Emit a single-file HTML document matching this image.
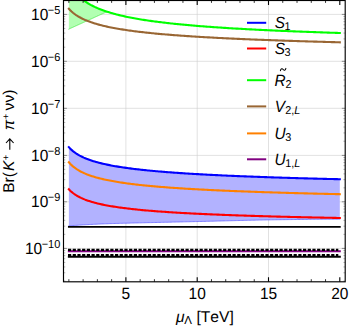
<!DOCTYPE html>
<html><head><meta charset="utf-8"><title>plot</title>
<style>html,body{margin:0;padding:0;background:#fff;}body{width:349px;height:327px;overflow:hidden;font-family:"Liberation Sans",sans-serif;}</style></head>
<body>
<svg width="349" height="327" viewBox="0 0 349 327" style="display:block">
<rect x="0" y="0" width="349" height="327" fill="#fff"/>
<line x1="125.90" y1="0.5" x2="125.90" y2="281.8" stroke="#cccccc" stroke-width="0.6"/>
<line x1="197.20" y1="0.5" x2="197.20" y2="281.8" stroke="#cccccc" stroke-width="0.6"/>
<line x1="268.50" y1="0.5" x2="268.50" y2="281.8" stroke="#cccccc" stroke-width="0.6"/>
<line x1="63.5" y1="248.40" x2="345.2" y2="248.40" stroke="#cccccc" stroke-width="0.6"/>
<line x1="63.5" y1="201.80" x2="345.2" y2="201.80" stroke="#cccccc" stroke-width="0.6"/>
<line x1="63.5" y1="155.40" x2="345.2" y2="155.40" stroke="#cccccc" stroke-width="0.6"/>
<line x1="63.5" y1="108.30" x2="345.2" y2="108.30" stroke="#cccccc" stroke-width="0.6"/>
<line x1="63.5" y1="61.30" x2="345.2" y2="61.30" stroke="#cccccc" stroke-width="0.6"/>
<line x1="63.5" y1="14.40" x2="345.2" y2="14.40" stroke="#cccccc" stroke-width="0.6"/>
<clipPath id="c"><rect x="63.5" y="0.5" width="281.7" height="281.3"/></clipPath>
<g clip-path="url(#c)" fill="none" stroke-linejoin="round" stroke-linecap="square">
<path d="M68.86,147.16 L70.22,148.62 L71.58,149.91 L72.94,151.08 L74.31,152.15 L75.67,153.12 L77.03,154.01 L78.39,154.83 L79.75,155.60 L81.11,156.31 L82.48,156.98 L83.84,157.61 L85.20,158.20 L86.56,158.76 L87.92,159.28 L89.28,159.78 L90.64,160.26 L92.01,160.71 L93.37,161.14 L94.73,161.56 L96.09,161.95 L97.45,162.33 L98.81,162.69 L100.17,163.04 L101.54,163.38 L102.90,163.70 L104.26,164.01 L105.62,164.31 L106.98,164.60 L108.34,164.88 L109.71,165.15 L111.07,165.42 L112.43,165.67 L113.79,165.92 L115.15,166.16 L116.51,166.39 L117.87,166.62 L119.24,166.84 L120.60,167.05 L121.96,167.26 L123.32,167.47 L124.68,167.66 L126.04,167.86 L127.40,168.05 L128.77,168.23 L130.13,168.41 L131.49,168.59 L132.85,168.76 L134.21,168.92 L135.57,169.09 L136.94,169.25 L138.30,169.41 L139.66,169.56 L141.02,169.71 L142.38,169.86 L143.74,170.00 L145.10,170.15 L146.47,170.28 L147.83,170.42 L149.19,170.56 L150.55,170.69 L151.91,170.82 L153.27,170.94 L154.63,171.07 L156.00,171.19 L157.36,171.31 L158.72,171.43 L160.08,171.54 L161.44,171.66 L162.80,171.77 L164.17,171.88 L165.53,171.99 L166.89,172.10 L168.25,172.20 L169.61,172.31 L170.97,172.41 L172.33,172.51 L173.70,172.61 L175.06,172.71 L176.42,172.80 L177.78,172.90 L179.14,172.99 L180.50,173.08 L181.87,173.17 L183.23,173.26 L184.59,173.35 L185.95,173.44 L187.31,173.52 L188.67,173.61 L190.03,173.69 L191.40,173.78 L192.76,173.86 L194.12,173.94 L195.48,174.02 L196.84,174.10 L198.20,174.17 L199.56,174.25 L200.93,174.33 L202.29,174.40 L203.65,174.48 L205.01,174.55 L206.37,174.62 L207.73,174.69 L209.10,174.76 L210.46,174.83 L211.82,174.90 L213.18,174.97 L214.54,175.04 L215.90,175.11 L217.26,175.17 L218.63,175.24 L219.99,175.30 L221.35,175.37 L222.71,175.43 L224.07,175.49 L225.43,175.55 L226.79,175.61 L228.16,175.68 L229.52,175.74 L230.88,175.80 L232.24,175.85 L233.60,175.91 L234.96,175.97 L236.33,176.03 L237.69,176.08 L239.05,176.14 L240.41,176.20 L241.77,176.25 L243.13,176.31 L244.49,176.36 L245.86,176.41 L247.22,176.47 L248.58,176.52 L249.94,176.57 L251.30,176.62 L252.66,176.67 L254.03,176.72 L255.39,176.77 L256.75,176.82 L258.11,176.87 L259.47,176.92 L260.83,176.97 L262.19,177.02 L263.56,177.07 L264.92,177.11 L266.28,177.16 L267.64,177.21 L269.00,177.25 L270.36,177.30 L271.72,177.34 L273.09,177.39 L274.45,177.43 L275.81,177.48 L277.17,177.52 L278.53,177.57 L279.89,177.61 L281.26,177.65 L282.62,177.69 L283.98,177.74 L285.34,177.78 L286.70,177.82 L288.06,177.86 L289.42,177.90 L290.79,177.94 L292.15,177.98 L293.51,178.02 L294.87,178.06 L296.23,178.10 L297.59,178.14 L298.95,178.18 L300.32,178.22 L301.68,178.26 L303.04,178.30 L304.40,178.33 L305.76,178.37 L307.12,178.41 L308.49,178.45 L309.85,178.48 L311.21,178.52 L312.57,178.55 L313.93,178.59 L315.29,178.63 L316.65,178.66 L318.02,178.70 L319.38,178.73 L320.74,178.77 L322.10,178.80 L323.46,178.84 L324.82,178.87 L326.18,178.90 L327.55,178.94 L328.91,178.97 L330.27,179.00 L331.63,179.04 L332.99,179.07 L334.35,179.10 L335.72,179.14 L337.08,179.17 L338.44,179.20 L339.80,179.23 L339.80,219.12 L338.44,219.13 L337.08,219.13 L335.72,219.14 L334.35,219.15 L332.99,219.16 L331.63,219.17 L330.27,219.18 L328.91,219.18 L327.55,219.19 L326.18,219.20 L324.82,219.22 L323.46,219.23 L322.10,219.24 L320.74,219.25 L319.38,219.26 L318.02,219.27 L316.65,219.29 L315.29,219.30 L313.93,219.31 L312.57,219.33 L311.21,219.34 L309.85,219.35 L308.49,219.37 L307.12,219.38 L305.76,219.40 L304.40,219.41 L303.04,219.43 L301.68,219.44 L300.32,219.46 L298.95,219.48 L297.59,219.49 L296.23,219.51 L294.87,219.52 L293.51,219.54 L292.15,219.56 L290.79,219.58 L289.42,219.59 L288.06,219.61 L286.70,219.63 L285.34,219.65 L283.98,219.66 L282.62,219.68 L281.26,219.70 L279.89,219.72 L278.53,219.74 L277.17,219.76 L275.81,219.78 L274.45,219.79 L273.09,219.81 L271.72,219.83 L270.36,219.85 L269.00,219.88 L267.64,219.90 L266.28,219.92 L264.92,219.95 L263.56,219.97 L262.19,220.00 L260.83,220.02 L259.47,220.05 L258.11,220.08 L256.75,220.11 L255.39,220.13 L254.03,220.16 L252.66,220.19 L251.30,220.22 L249.94,220.26 L248.58,220.29 L247.22,220.32 L245.86,220.35 L244.49,220.38 L243.13,220.42 L241.77,220.45 L240.41,220.49 L239.05,220.52 L237.69,220.55 L236.33,220.59 L234.96,220.62 L233.60,220.66 L232.24,220.69 L230.88,220.73 L229.52,220.76 L228.16,220.80 L226.79,220.83 L225.43,220.87 L224.07,220.90 L222.71,220.94 L221.35,220.97 L219.99,221.01 L218.63,221.04 L217.26,221.08 L215.90,221.11 L214.54,221.15 L213.18,221.18 L211.82,221.21 L210.46,221.25 L209.10,221.28 L207.73,221.31 L206.37,221.35 L205.01,221.38 L203.65,221.41 L202.29,221.44 L200.93,221.47 L199.56,221.50 L198.20,221.53 L196.84,221.56 L195.48,221.59 L194.12,221.63 L192.76,221.66 L191.40,221.69 L190.03,221.72 L188.67,221.75 L187.31,221.78 L185.95,221.81 L184.59,221.84 L183.23,221.87 L181.87,221.91 L180.50,221.94 L179.14,221.97 L177.78,222.00 L176.42,222.03 L175.06,222.06 L173.70,222.09 L172.33,222.12 L170.97,222.15 L169.61,222.19 L168.25,222.22 L166.89,222.25 L165.53,222.28 L164.17,222.31 L162.80,222.34 L161.44,222.37 L160.08,222.40 L158.72,222.43 L157.36,222.46 L156.00,222.49 L154.63,222.52 L153.27,222.55 L151.91,222.58 L150.55,222.61 L149.19,222.64 L147.83,222.67 L146.47,222.70 L145.10,222.74 L143.74,222.77 L142.38,222.80 L141.02,222.83 L139.66,222.86 L138.30,222.90 L136.94,222.93 L135.57,222.96 L134.21,222.99 L132.85,223.03 L131.49,223.06 L130.13,223.09 L128.77,223.13 L127.40,223.16 L126.04,223.19 L124.68,223.23 L123.32,223.26 L121.96,223.30 L120.60,223.33 L119.24,223.37 L117.87,223.40 L116.51,223.44 L115.15,223.48 L113.79,223.52 L112.43,223.56 L111.07,223.60 L109.71,223.64 L108.34,223.69 L106.98,223.74 L105.62,223.79 L104.26,223.84 L102.90,223.89 L101.54,223.95 L100.17,224.01 L98.81,224.07 L97.45,224.13 L96.09,224.19 L94.73,224.26 L93.37,224.33 L92.01,224.39 L90.64,224.46 L89.28,224.53 L87.92,224.60 L86.56,224.68 L85.20,224.76 L83.84,224.84 L82.48,224.93 L81.11,225.02 L79.75,225.11 L78.39,225.20 L77.03,225.29 L75.67,225.39 L74.31,225.47 L72.94,225.56 L71.58,225.64 L70.22,225.72 L68.86,225.80Z" fill="#b2b2ff" stroke="none"/>
<path d="M68.86,225.80 L70.22,225.72 L71.58,225.64 L72.94,225.56 L74.31,225.47 L75.67,225.39 L77.03,225.29 L78.39,225.20 L79.75,225.11 L81.11,225.02 L82.48,224.93 L83.84,224.84 L85.20,224.76 L86.56,224.68 L87.92,224.60 L89.28,224.53 L90.64,224.46 L92.01,224.39 L93.37,224.33 L94.73,224.26 L96.09,224.19 L97.45,224.13 L98.81,224.07 L100.17,224.01 L101.54,223.95 L102.90,223.89 L104.26,223.84 L105.62,223.79 L106.98,223.74 L108.34,223.69 L109.71,223.64 L111.07,223.60 L112.43,223.56 L113.79,223.52 L115.15,223.48 L116.51,223.44 L117.87,223.40 L119.24,223.37 L120.60,223.33 L121.96,223.30 L123.32,223.26 L124.68,223.23 L126.04,223.19 L127.40,223.16 L128.77,223.13 L130.13,223.09 L131.49,223.06 L132.85,223.03 L134.21,222.99 L135.57,222.96 L136.94,222.93 L138.30,222.90 L139.66,222.86 L141.02,222.83 L142.38,222.80 L143.74,222.77 L145.10,222.74 L146.47,222.70 L147.83,222.67 L149.19,222.64 L150.55,222.61 L151.91,222.58 L153.27,222.55 L154.63,222.52 L156.00,222.49 L157.36,222.46 L158.72,222.43 L160.08,222.40 L161.44,222.37 L162.80,222.34 L164.17,222.31 L165.53,222.28 L166.89,222.25 L168.25,222.22 L169.61,222.19 L170.97,222.15 L172.33,222.12 L173.70,222.09 L175.06,222.06 L176.42,222.03 L177.78,222.00 L179.14,221.97 L180.50,221.94 L181.87,221.91 L183.23,221.87 L184.59,221.84 L185.95,221.81 L187.31,221.78 L188.67,221.75 L190.03,221.72 L191.40,221.69 L192.76,221.66 L194.12,221.63 L195.48,221.59 L196.84,221.56 L198.20,221.53 L199.56,221.50 L200.93,221.47 L202.29,221.44 L203.65,221.41 L205.01,221.38 L206.37,221.35 L207.73,221.31 L209.10,221.28 L210.46,221.25 L211.82,221.21 L213.18,221.18 L214.54,221.15 L215.90,221.11 L217.26,221.08 L218.63,221.04 L219.99,221.01 L221.35,220.97 L222.71,220.94 L224.07,220.90 L225.43,220.87 L226.79,220.83 L228.16,220.80 L229.52,220.76 L230.88,220.73 L232.24,220.69 L233.60,220.66 L234.96,220.62 L236.33,220.59 L237.69,220.55 L239.05,220.52 L240.41,220.49 L241.77,220.45 L243.13,220.42 L244.49,220.38 L245.86,220.35 L247.22,220.32 L248.58,220.29 L249.94,220.26 L251.30,220.22 L252.66,220.19 L254.03,220.16 L255.39,220.13 L256.75,220.11 L258.11,220.08 L259.47,220.05 L260.83,220.02 L262.19,220.00 L263.56,219.97 L264.92,219.95 L266.28,219.92 L267.64,219.90 L269.00,219.88 L270.36,219.85 L271.72,219.83 L273.09,219.81 L274.45,219.79 L275.81,219.78 L277.17,219.76 L278.53,219.74 L279.89,219.72 L281.26,219.70 L282.62,219.68 L283.98,219.66 L285.34,219.65 L286.70,219.63 L288.06,219.61 L289.42,219.59 L290.79,219.58 L292.15,219.56 L293.51,219.54 L294.87,219.52 L296.23,219.51 L297.59,219.49 L298.95,219.48 L300.32,219.46 L301.68,219.44 L303.04,219.43 L304.40,219.41 L305.76,219.40 L307.12,219.38 L308.49,219.37 L309.85,219.35 L311.21,219.34 L312.57,219.33 L313.93,219.31 L315.29,219.30 L316.65,219.29 L318.02,219.27 L319.38,219.26 L320.74,219.25 L322.10,219.24 L323.46,219.23 L324.82,219.22 L326.18,219.20 L327.55,219.19 L328.91,219.18 L330.27,219.18 L331.63,219.17 L332.99,219.16 L334.35,219.15 L335.72,219.14 L337.08,219.13 L338.44,219.13 L339.80,219.12" stroke="#5a5aff" stroke-width="0.7"/>
<path d="M68.86,-17.10 L69.05,-16.72 L69.24,-16.36 L69.43,-16.00 L69.63,-15.64 L69.82,-15.30 L70.01,-14.95 L70.20,-14.62 L70.39,-14.29 L70.58,-13.96 L70.78,-13.65 L70.97,-13.33 L71.16,-13.02 L71.35,-12.72 L71.54,-12.42 L71.73,-12.12 L71.93,-11.83 L72.12,-11.55 L72.31,-11.27 L72.50,-10.99 L72.69,-10.72 L72.88,-10.45 L73.08,-10.18 L73.27,-9.92 L73.46,-9.66 L73.65,-9.41 L73.84,-9.16 L74.03,-8.91 L74.23,-8.66 L74.42,-8.42 L74.61,-8.19 L74.80,-7.95 L74.99,-7.72 L75.18,-7.49 L75.38,-7.27 L75.57,-7.04 L75.76,-6.82 L75.95,-6.61 L76.14,-6.39 L76.33,-6.18 L76.53,-5.97 L76.72,-5.76 L76.91,-5.56 L77.10,-5.36 L77.29,-5.16 L77.48,-4.96 L77.68,-4.77 L77.87,-4.57 L78.06,-4.38 L78.25,-4.19 L78.44,-4.01 L78.63,-3.82 L78.83,-3.64 L79.02,-3.46 L79.21,-3.28 L79.40,-3.11 L79.59,-2.93 L79.78,-2.76 L79.98,-2.59 L80.17,-2.42 L80.36,-2.25 L80.55,-2.09 L80.74,-1.92 L80.93,-1.76 L81.13,-1.60 L81.32,-1.44 L81.51,-1.28 L81.70,-1.13 L81.89,-0.97 L82.08,-0.82 L82.28,-0.67 L82.47,-0.52 L82.66,-0.37 L82.85,-0.22 L83.04,-0.07 L83.23,0.07 L83.43,0.21 L83.62,0.35 L83.81,0.50 L84.00,0.63 L84.19,0.77 L84.38,0.91 L84.58,1.05 L84.77,1.18 L84.96,1.31 L85.15,1.45 L85.34,1.58 L85.53,1.71 L85.73,1.84 L85.92,1.96 L86.11,2.09 L86.30,2.22 L86.49,2.34 L86.68,2.46 L86.88,2.59 L87.07,2.71 L87.26,2.83 L87.45,2.95 L87.64,3.07 L87.83,3.18 L88.03,3.30 L88.22,3.42 L88.41,3.53 L88.60,3.64 L88.79,3.76 L88.98,3.87 L89.18,3.98 L89.37,4.09 L89.56,4.20 L89.75,4.31 L89.94,4.42 L90.13,4.53 L90.33,4.63 L90.52,4.74 L90.71,4.84 L90.90,4.95 L91.09,5.05 L91.28,5.15 L91.48,5.25 L91.67,5.36 L91.86,5.46 L92.05,5.56 L92.24,5.65 L92.43,5.75 L92.63,5.85 L92.82,5.95 L93.01,6.04 L93.20,6.14 L93.39,6.23 L93.58,6.33 L93.78,6.42 L93.97,6.51 L94.16,6.61 L94.35,6.70 L94.54,6.79 L94.73,6.88 L94.93,6.97 L95.12,7.06 L95.31,7.15 L95.50,7.24 L95.69,7.32 L95.88,7.41 L96.08,7.50 L96.27,7.58 L96.46,7.67 L96.65,7.75 L96.84,7.84 L97.03,7.92 L97.23,8.01 L97.42,8.09 L97.61,8.17 L97.80,8.25 L97.99,8.33 L98.18,8.42 L98.38,8.50 L98.57,8.58 L98.76,8.65 L98.95,8.73 L99.14,8.81 L99.33,8.89 L99.53,8.97 L99.72,9.04 L99.91,9.12 L100.10,9.20 L100.29,9.27 L100.48,9.35 L100.68,9.42 L100.87,9.50 L101.06,9.57 L101.25,9.64 L101.44,9.72 L101.63,9.79 L101.83,9.86 L102.02,9.93 L102.21,10.01 L102.40,10.08 L102.59,10.15 L102.78,10.22 L102.98,10.29 L103.17,10.36 L103.36,10.43 L103.55,10.50 L103.74,10.56 L103.93,10.63 L104.13,10.70 L104.32,10.77 L104.51,10.83 L104.70,10.90 L104.89,10.97 L105.08,11.03 L105.28,11.10 L105.47,11.16 L105.66,11.23 L105.85,11.29 L106.04,11.36 L106.23,11.42 L106.43,11.49 L106.62,11.55 L106.81,11.61 L107.00,11.67 L107.00,11.67 L106.81,11.76 L106.62,11.85 L106.43,11.94 L106.23,12.02 L106.04,12.11 L105.85,12.20 L105.66,12.29 L105.47,12.37 L105.28,12.46 L105.08,12.55 L104.89,12.64 L104.70,12.72 L104.51,12.81 L104.32,12.90 L104.13,12.99 L103.93,13.08 L103.74,13.16 L103.55,13.25 L103.36,13.34 L103.17,13.43 L102.98,13.51 L102.78,13.60 L102.59,13.69 L102.40,13.78 L102.21,13.86 L102.02,13.95 L101.83,14.04 L101.63,14.13 L101.44,14.21 L101.25,14.30 L101.06,14.39 L100.87,14.48 L100.68,14.56 L100.48,14.65 L100.29,14.74 L100.10,14.83 L99.91,14.91 L99.72,15.00 L99.53,15.09 L99.33,15.18 L99.14,15.26 L98.95,15.35 L98.76,15.44 L98.57,15.53 L98.38,15.61 L98.18,15.70 L97.99,15.79 L97.80,15.88 L97.61,15.96 L97.42,16.05 L97.23,16.14 L97.03,16.23 L96.84,16.32 L96.65,16.40 L96.46,16.49 L96.27,16.58 L96.08,16.67 L95.88,16.75 L95.69,16.84 L95.50,16.93 L95.31,17.02 L95.12,17.10 L94.93,17.19 L94.73,17.28 L94.54,17.37 L94.35,17.45 L94.16,17.54 L93.97,17.63 L93.78,17.72 L93.58,17.80 L93.39,17.89 L93.20,17.98 L93.01,18.07 L92.82,18.15 L92.63,18.24 L92.43,18.33 L92.24,18.42 L92.05,18.50 L91.86,18.59 L91.67,18.68 L91.48,18.77 L91.28,18.85 L91.09,18.94 L90.90,19.03 L90.71,19.12 L90.52,19.20 L90.33,19.29 L90.13,19.38 L89.94,19.47 L89.75,19.56 L89.56,19.64 L89.37,19.73 L89.18,19.82 L88.98,19.91 L88.79,19.99 L88.60,20.08 L88.41,20.17 L88.22,20.26 L88.03,20.34 L87.83,20.43 L87.64,20.52 L87.45,20.61 L87.26,20.69 L87.07,20.78 L86.88,20.87 L86.68,20.96 L86.49,21.04 L86.30,21.13 L86.11,21.22 L85.92,21.31 L85.73,21.39 L85.53,21.48 L85.34,21.57 L85.15,21.66 L84.96,21.74 L84.77,21.83 L84.58,21.92 L84.38,22.01 L84.19,22.09 L84.00,22.18 L83.81,22.27 L83.62,22.36 L83.43,22.44 L83.23,22.53 L83.04,22.62 L82.85,22.71 L82.66,22.80 L82.47,22.88 L82.28,22.97 L82.08,23.06 L81.89,23.15 L81.70,23.23 L81.51,23.32 L81.32,23.41 L81.13,23.50 L80.93,23.58 L80.74,23.67 L80.55,23.76 L80.36,23.85 L80.17,23.93 L79.98,24.02 L79.78,24.11 L79.59,24.20 L79.40,24.28 L79.21,24.37 L79.02,24.46 L78.83,24.55 L78.63,24.63 L78.44,24.72 L78.25,24.81 L78.06,24.90 L77.87,24.98 L77.68,25.07 L77.48,25.16 L77.29,25.25 L77.10,25.33 L76.91,25.42 L76.72,25.51 L76.53,25.60 L76.33,25.68 L76.14,25.77 L75.95,25.86 L75.76,25.95 L75.57,26.04 L75.38,26.12 L75.18,26.21 L74.99,26.30 L74.80,26.39 L74.61,26.47 L74.42,26.56 L74.23,26.65 L74.03,26.74 L73.84,26.82 L73.65,26.91 L73.46,27.00 L73.27,27.09 L73.08,27.17 L72.88,27.26 L72.69,27.35 L72.50,27.44 L72.31,27.52 L72.12,27.61 L71.93,27.70 L71.73,27.79 L71.54,27.87 L71.35,27.96 L71.16,28.05 L70.97,28.14 L70.78,28.22 L70.58,28.31 L70.39,28.40 L70.20,28.49 L70.01,28.57 L69.82,28.66 L69.63,28.75 L69.43,28.84 L69.24,28.92 L69.05,29.01 L68.86,29.10Z" fill="#b2ffb2" stroke="none"/>
<path d="M68.86,29.10 L69.05,29.01 L69.24,28.92 L69.43,28.84 L69.63,28.75 L69.82,28.66 L70.01,28.57 L70.20,28.49 L70.39,28.40 L70.58,28.31 L70.78,28.22 L70.97,28.14 L71.16,28.05 L71.35,27.96 L71.54,27.87 L71.73,27.79 L71.93,27.70 L72.12,27.61 L72.31,27.52 L72.50,27.44 L72.69,27.35 L72.88,27.26 L73.08,27.17 L73.27,27.09 L73.46,27.00 L73.65,26.91 L73.84,26.82 L74.03,26.74 L74.23,26.65 L74.42,26.56 L74.61,26.47 L74.80,26.39 L74.99,26.30 L75.18,26.21 L75.38,26.12 L75.57,26.04 L75.76,25.95 L75.95,25.86 L76.14,25.77 L76.33,25.68 L76.53,25.60 L76.72,25.51 L76.91,25.42 L77.10,25.33 L77.29,25.25 L77.48,25.16 L77.68,25.07 L77.87,24.98 L78.06,24.90 L78.25,24.81 L78.44,24.72 L78.63,24.63 L78.83,24.55 L79.02,24.46 L79.21,24.37 L79.40,24.28 L79.59,24.20 L79.78,24.11 L79.98,24.02 L80.17,23.93 L80.36,23.85 L80.55,23.76 L80.74,23.67 L80.93,23.58 L81.13,23.50 L81.32,23.41 L81.51,23.32 L81.70,23.23 L81.89,23.15 L82.08,23.06 L82.28,22.97 L82.47,22.88 L82.66,22.80 L82.85,22.71 L83.04,22.62 L83.23,22.53 L83.43,22.44 L83.62,22.36 L83.81,22.27 L84.00,22.18 L84.19,22.09 L84.38,22.01 L84.58,21.92 L84.77,21.83 L84.96,21.74 L85.15,21.66 L85.34,21.57 L85.53,21.48 L85.73,21.39 L85.92,21.31 L86.11,21.22 L86.30,21.13 L86.49,21.04 L86.68,20.96 L86.88,20.87 L87.07,20.78 L87.26,20.69 L87.45,20.61 L87.64,20.52 L87.83,20.43 L88.03,20.34 L88.22,20.26 L88.41,20.17 L88.60,20.08 L88.79,19.99 L88.98,19.91 L89.18,19.82 L89.37,19.73 L89.56,19.64 L89.75,19.56 L89.94,19.47 L90.13,19.38 L90.33,19.29 L90.52,19.20 L90.71,19.12 L90.90,19.03 L91.09,18.94 L91.28,18.85 L91.48,18.77 L91.67,18.68 L91.86,18.59 L92.05,18.50 L92.24,18.42 L92.43,18.33 L92.63,18.24 L92.82,18.15 L93.01,18.07 L93.20,17.98 L93.39,17.89 L93.58,17.80 L93.78,17.72 L93.97,17.63 L94.16,17.54 L94.35,17.45 L94.54,17.37 L94.73,17.28 L94.93,17.19 L95.12,17.10 L95.31,17.02 L95.50,16.93 L95.69,16.84 L95.88,16.75 L96.08,16.67 L96.27,16.58 L96.46,16.49 L96.65,16.40 L96.84,16.32 L97.03,16.23 L97.23,16.14 L97.42,16.05 L97.61,15.96 L97.80,15.88 L97.99,15.79 L98.18,15.70 L98.38,15.61 L98.57,15.53 L98.76,15.44 L98.95,15.35 L99.14,15.26 L99.33,15.18 L99.53,15.09 L99.72,15.00 L99.91,14.91 L100.10,14.83 L100.29,14.74 L100.48,14.65 L100.68,14.56 L100.87,14.48 L101.06,14.39 L101.25,14.30 L101.44,14.21 L101.63,14.13 L101.83,14.04 L102.02,13.95 L102.21,13.86 L102.40,13.78 L102.59,13.69 L102.78,13.60 L102.98,13.51 L103.17,13.43 L103.36,13.34 L103.55,13.25 L103.74,13.16 L103.93,13.08 L104.13,12.99 L104.32,12.90 L104.51,12.81 L104.70,12.72 L104.89,12.64 L105.08,12.55 L105.28,12.46 L105.47,12.37 L105.66,12.29 L105.85,12.20 L106.04,12.11 L106.23,12.02 L106.43,11.94 L106.62,11.85 L106.81,11.76 L107.00,11.67" stroke="#3ce83c" stroke-width="0.7"/>
<line x1="68.86" y1="226.85" x2="339.80" y2="226.85" stroke="#000" stroke-width="1.8"/>
<line x1="68.86" y1="251.2" x2="339.80" y2="251.2" stroke="#800080" stroke-width="2"/>
<line x1="68.0" y1="249.8" x2="338.30" y2="249.8" stroke="#000" stroke-width="2.2" stroke-dasharray="3.2 1.5" stroke-linecap="butt"/>
<line x1="68.0" y1="255.0" x2="338.30" y2="255.0" stroke="#000" stroke-width="2" stroke-dasharray="3.2 1.5" stroke-linecap="butt"/>
<line x1="68.86" y1="256.75" x2="339.80" y2="256.75" stroke="#000" stroke-width="2"/>
<path d="M68.86,147.16 L70.22,148.62 L71.58,149.91 L72.94,151.08 L74.31,152.15 L75.67,153.12 L77.03,154.01 L78.39,154.83 L79.75,155.60 L81.11,156.31 L82.48,156.98 L83.84,157.61 L85.20,158.20 L86.56,158.76 L87.92,159.28 L89.28,159.78 L90.64,160.26 L92.01,160.71 L93.37,161.14 L94.73,161.56 L96.09,161.95 L97.45,162.33 L98.81,162.69 L100.17,163.04 L101.54,163.38 L102.90,163.70 L104.26,164.01 L105.62,164.31 L106.98,164.60 L108.34,164.88 L109.71,165.15 L111.07,165.42 L112.43,165.67 L113.79,165.92 L115.15,166.16 L116.51,166.39 L117.87,166.62 L119.24,166.84 L120.60,167.05 L121.96,167.26 L123.32,167.47 L124.68,167.66 L126.04,167.86 L127.40,168.05 L128.77,168.23 L130.13,168.41 L131.49,168.59 L132.85,168.76 L134.21,168.92 L135.57,169.09 L136.94,169.25 L138.30,169.41 L139.66,169.56 L141.02,169.71 L142.38,169.86 L143.74,170.00 L145.10,170.15 L146.47,170.28 L147.83,170.42 L149.19,170.56 L150.55,170.69 L151.91,170.82 L153.27,170.94 L154.63,171.07 L156.00,171.19 L157.36,171.31 L158.72,171.43 L160.08,171.54 L161.44,171.66 L162.80,171.77 L164.17,171.88 L165.53,171.99 L166.89,172.10 L168.25,172.20 L169.61,172.31 L170.97,172.41 L172.33,172.51 L173.70,172.61 L175.06,172.71 L176.42,172.80 L177.78,172.90 L179.14,172.99 L180.50,173.08 L181.87,173.17 L183.23,173.26 L184.59,173.35 L185.95,173.44 L187.31,173.52 L188.67,173.61 L190.03,173.69 L191.40,173.78 L192.76,173.86 L194.12,173.94 L195.48,174.02 L196.84,174.10 L198.20,174.17 L199.56,174.25 L200.93,174.33 L202.29,174.40 L203.65,174.48 L205.01,174.55 L206.37,174.62 L207.73,174.69 L209.10,174.76 L210.46,174.83 L211.82,174.90 L213.18,174.97 L214.54,175.04 L215.90,175.11 L217.26,175.17 L218.63,175.24 L219.99,175.30 L221.35,175.37 L222.71,175.43 L224.07,175.49 L225.43,175.55 L226.79,175.61 L228.16,175.68 L229.52,175.74 L230.88,175.80 L232.24,175.85 L233.60,175.91 L234.96,175.97 L236.33,176.03 L237.69,176.08 L239.05,176.14 L240.41,176.20 L241.77,176.25 L243.13,176.31 L244.49,176.36 L245.86,176.41 L247.22,176.47 L248.58,176.52 L249.94,176.57 L251.30,176.62 L252.66,176.67 L254.03,176.72 L255.39,176.77 L256.75,176.82 L258.11,176.87 L259.47,176.92 L260.83,176.97 L262.19,177.02 L263.56,177.07 L264.92,177.11 L266.28,177.16 L267.64,177.21 L269.00,177.25 L270.36,177.30 L271.72,177.34 L273.09,177.39 L274.45,177.43 L275.81,177.48 L277.17,177.52 L278.53,177.57 L279.89,177.61 L281.26,177.65 L282.62,177.69 L283.98,177.74 L285.34,177.78 L286.70,177.82 L288.06,177.86 L289.42,177.90 L290.79,177.94 L292.15,177.98 L293.51,178.02 L294.87,178.06 L296.23,178.10 L297.59,178.14 L298.95,178.18 L300.32,178.22 L301.68,178.26 L303.04,178.30 L304.40,178.33 L305.76,178.37 L307.12,178.41 L308.49,178.45 L309.85,178.48 L311.21,178.52 L312.57,178.55 L313.93,178.59 L315.29,178.63 L316.65,178.66 L318.02,178.70 L319.38,178.73 L320.74,178.77 L322.10,178.80 L323.46,178.84 L324.82,178.87 L326.18,178.90 L327.55,178.94 L328.91,178.97 L330.27,179.00 L331.63,179.04 L332.99,179.07 L334.35,179.10 L335.72,179.14 L337.08,179.17 L338.44,179.20 L339.80,179.23" stroke="#0000ff" stroke-width="2.1"/>
<path d="M68.86,189.30 L70.22,190.68 L71.58,191.91 L72.94,193.02 L74.31,194.02 L75.67,194.93 L77.03,195.77 L78.39,196.54 L79.75,197.25 L81.11,197.91 L82.48,198.53 L83.84,199.10 L85.20,199.65 L86.56,200.16 L87.92,200.64 L89.28,201.10 L90.64,201.53 L92.01,201.94 L93.37,202.33 L94.73,202.71 L96.09,203.06 L97.45,203.41 L98.81,203.73 L100.17,204.05 L101.54,204.35 L102.90,204.64 L104.26,204.92 L105.62,205.19 L106.98,205.45 L108.34,205.70 L109.71,205.94 L111.07,206.17 L112.43,206.40 L113.79,206.62 L115.15,206.83 L116.51,207.04 L117.87,207.24 L119.24,207.43 L120.60,207.62 L121.96,207.81 L123.32,207.99 L124.68,208.16 L126.04,208.33 L127.40,208.49 L128.77,208.66 L130.13,208.81 L131.49,208.97 L132.85,209.12 L134.21,209.26 L135.57,209.41 L136.94,209.55 L138.30,209.68 L139.66,209.82 L141.02,209.95 L142.38,210.08 L143.74,210.20 L145.10,210.33 L146.47,210.45 L147.83,210.56 L149.19,210.68 L150.55,210.79 L151.91,210.91 L153.27,211.02 L154.63,211.12 L156.00,211.23 L157.36,211.33 L158.72,211.43 L160.08,211.53 L161.44,211.63 L162.80,211.73 L164.17,211.82 L165.53,211.92 L166.89,212.01 L168.25,212.10 L169.61,212.19 L170.97,212.27 L172.33,212.36 L173.70,212.45 L175.06,212.53 L176.42,212.61 L177.78,212.69 L179.14,212.77 L180.50,212.85 L181.87,212.93 L183.23,213.00 L184.59,213.08 L185.95,213.15 L187.31,213.23 L188.67,213.30 L190.03,213.37 L191.40,213.44 L192.76,213.51 L194.12,213.58 L195.48,213.65 L196.84,213.71 L198.20,213.78 L199.56,213.84 L200.93,213.91 L202.29,213.97 L203.65,214.03 L205.01,214.09 L206.37,214.16 L207.73,214.22 L209.10,214.28 L210.46,214.33 L211.82,214.39 L213.18,214.45 L214.54,214.51 L215.90,214.56 L217.26,214.62 L218.63,214.67 L219.99,214.73 L221.35,214.78 L222.71,214.83 L224.07,214.89 L225.43,214.94 L226.79,214.99 L228.16,215.04 L229.52,215.09 L230.88,215.14 L232.24,215.19 L233.60,215.24 L234.96,215.29 L236.33,215.34 L237.69,215.38 L239.05,215.43 L240.41,215.48 L241.77,215.52 L243.13,215.57 L244.49,215.61 L245.86,215.66 L247.22,215.70 L248.58,215.75 L249.94,215.79 L251.30,215.83 L252.66,215.87 L254.03,215.92 L255.39,215.96 L256.75,216.00 L258.11,216.04 L259.47,216.08 L260.83,216.12 L262.19,216.16 L263.56,216.20 L264.92,216.24 L266.28,216.28 L267.64,216.32 L269.00,216.36 L270.36,216.39 L271.72,216.43 L273.09,216.47 L274.45,216.51 L275.81,216.54 L277.17,216.58 L278.53,216.61 L279.89,216.65 L281.26,216.69 L282.62,216.72 L283.98,216.76 L285.34,216.79 L286.70,216.82 L288.06,216.86 L289.42,216.89 L290.79,216.93 L292.15,216.96 L293.51,216.99 L294.87,217.02 L296.23,217.06 L297.59,217.09 L298.95,217.12 L300.32,217.15 L301.68,217.18 L303.04,217.22 L304.40,217.25 L305.76,217.28 L307.12,217.31 L308.49,217.34 L309.85,217.37 L311.21,217.40 L312.57,217.43 L313.93,217.46 L315.29,217.49 L316.65,217.52 L318.02,217.55 L319.38,217.57 L320.74,217.60 L322.10,217.63 L323.46,217.66 L324.82,217.69 L326.18,217.71 L327.55,217.74 L328.91,217.77 L330.27,217.80 L331.63,217.82 L332.99,217.85 L334.35,217.88 L335.72,217.90 L337.08,217.93 L338.44,217.96 L339.80,217.98" stroke="#ff0000" stroke-width="2.1"/>
<path d="M68.86,-17.10 L70.22,-14.58 L71.58,-12.36 L72.94,-10.36 L74.31,-8.56 L75.67,-6.93 L77.03,-5.43 L78.39,-4.06 L79.75,-2.79 L81.11,-1.61 L82.48,-0.51 L83.84,0.52 L85.20,1.48 L86.56,2.38 L87.92,3.24 L89.28,4.04 L90.64,4.81 L92.01,5.53 L93.37,6.22 L94.73,6.88 L96.09,7.50 L97.45,8.10 L98.81,8.68 L100.17,9.23 L101.54,9.75 L102.90,10.26 L104.26,10.75 L105.62,11.22 L106.98,11.67 L108.34,12.10 L109.71,12.53 L111.07,12.93 L112.43,13.33 L113.79,13.71 L115.15,14.08 L116.51,14.43 L117.87,14.78 L119.24,15.12 L120.60,15.45 L121.96,15.76 L123.32,16.07 L124.68,16.37 L126.04,16.67 L127.40,16.95 L128.77,17.23 L130.13,17.50 L131.49,17.77 L132.85,18.02 L134.21,18.28 L135.57,18.52 L136.94,18.76 L138.30,19.00 L139.66,19.23 L141.02,19.45 L142.38,19.67 L143.74,19.89 L145.10,20.10 L146.47,20.31 L147.83,20.51 L149.19,20.71 L150.55,20.90 L151.91,21.09 L153.27,21.28 L154.63,21.46 L156.00,21.64 L157.36,21.82 L158.72,21.99 L160.08,22.16 L161.44,22.33 L162.80,22.49 L164.17,22.65 L165.53,22.81 L166.89,22.97 L168.25,23.12 L169.61,23.27 L170.97,23.42 L172.33,23.57 L173.70,23.71 L175.06,23.85 L176.42,23.99 L177.78,24.13 L179.14,24.27 L180.50,24.40 L181.87,24.53 L183.23,24.66 L184.59,24.79 L185.95,24.91 L187.31,25.04 L188.67,25.16 L190.03,25.28 L191.40,25.40 L192.76,25.52 L194.12,25.63 L195.48,25.75 L196.84,25.86 L198.20,25.97 L199.56,26.08 L200.93,26.19 L202.29,26.29 L203.65,26.40 L205.01,26.50 L206.37,26.61 L207.73,26.71 L209.10,26.81 L210.46,26.91 L211.82,27.00 L213.18,27.10 L214.54,27.20 L215.90,27.29 L217.26,27.38 L218.63,27.48 L219.99,27.57 L221.35,27.66 L222.71,27.75 L224.07,27.84 L225.43,27.92 L226.79,28.01 L228.16,28.09 L229.52,28.18 L230.88,28.26 L232.24,28.34 L233.60,28.43 L234.96,28.51 L236.33,28.59 L237.69,28.67 L239.05,28.74 L240.41,28.82 L241.77,28.90 L243.13,28.98 L244.49,29.05 L245.86,29.13 L247.22,29.20 L248.58,29.27 L249.94,29.34 L251.30,29.42 L252.66,29.49 L254.03,29.56 L255.39,29.63 L256.75,29.70 L258.11,29.77 L259.47,29.83 L260.83,29.90 L262.19,29.97 L263.56,30.03 L264.92,30.10 L266.28,30.16 L267.64,30.23 L269.00,30.29 L270.36,30.35 L271.72,30.42 L273.09,30.48 L274.45,30.54 L275.81,30.60 L277.17,30.66 L278.53,30.72 L279.89,30.78 L281.26,30.84 L282.62,30.90 L283.98,30.96 L285.34,31.01 L286.70,31.07 L288.06,31.13 L289.42,31.18 L290.79,31.24 L292.15,31.29 L293.51,31.35 L294.87,31.40 L296.23,31.46 L297.59,31.51 L298.95,31.56 L300.32,31.62 L301.68,31.67 L303.04,31.72 L304.40,31.77 L305.76,31.82 L307.12,31.87 L308.49,31.92 L309.85,31.97 L311.21,32.02 L312.57,32.07 L313.93,32.12 L315.29,32.17 L316.65,32.22 L318.02,32.27 L319.38,32.31 L320.74,32.36 L322.10,32.41 L323.46,32.46 L324.82,32.50 L326.18,32.55 L327.55,32.59 L328.91,32.64 L330.27,32.68 L331.63,32.73 L332.99,32.77 L334.35,32.82 L335.72,32.86 L337.08,32.90 L338.44,32.95 L339.80,32.99" stroke="#00ff00" stroke-width="2.1"/>
<path d="M68.86,8.74 L70.22,10.21 L71.58,11.52 L72.94,12.70 L74.31,13.78 L75.67,14.77 L77.03,15.67 L78.39,16.52 L79.75,17.30 L81.11,18.03 L82.48,18.72 L83.84,19.36 L85.20,19.97 L86.56,20.54 L87.92,21.09 L89.28,21.60 L90.64,22.10 L92.01,22.56 L93.37,23.01 L94.73,23.44 L96.09,23.85 L97.45,24.24 L98.81,24.62 L100.17,24.98 L101.54,25.33 L102.90,25.67 L104.26,26.00 L105.62,26.31 L106.98,26.61 L108.34,26.91 L109.71,27.19 L111.07,27.47 L112.43,27.74 L113.79,28.00 L115.15,28.25 L116.51,28.49 L117.87,28.73 L119.24,28.96 L120.60,29.19 L121.96,29.41 L123.32,29.62 L124.68,29.83 L126.04,30.04 L127.40,30.24 L128.77,30.43 L130.13,30.62 L131.49,30.81 L132.85,30.99 L134.21,31.17 L135.57,31.34 L136.94,31.51 L138.30,31.68 L139.66,31.84 L141.02,32.00 L142.38,32.16 L143.74,32.31 L145.10,32.46 L146.47,32.61 L147.83,32.76 L149.19,32.90 L150.55,33.04 L151.91,33.18 L153.27,33.31 L154.63,33.45 L156.00,33.58 L157.36,33.70 L158.72,33.83 L160.08,33.96 L161.44,34.08 L162.80,34.20 L164.17,34.32 L165.53,34.43 L166.89,34.55 L168.25,34.66 L169.61,34.77 L170.97,34.88 L172.33,34.99 L173.70,35.10 L175.06,35.20 L176.42,35.30 L177.78,35.41 L179.14,35.51 L180.50,35.61 L181.87,35.70 L183.23,35.80 L184.59,35.89 L185.95,35.99 L187.31,36.08 L188.67,36.17 L190.03,36.26 L191.40,36.35 L192.76,36.44 L194.12,36.53 L195.48,36.61 L196.84,36.70 L198.20,36.78 L199.56,36.86 L200.93,36.95 L202.29,37.03 L203.65,37.11 L205.01,37.19 L206.37,37.26 L207.73,37.34 L209.10,37.42 L210.46,37.49 L211.82,37.57 L213.18,37.64 L214.54,37.72 L215.90,37.79 L217.26,37.86 L218.63,37.93 L219.99,38.00 L221.35,38.07 L222.71,38.14 L224.07,38.21 L225.43,38.27 L226.79,38.34 L228.16,38.41 L229.52,38.47 L230.88,38.54 L232.24,38.60 L233.60,38.66 L234.96,38.73 L236.33,38.79 L237.69,38.85 L239.05,38.91 L240.41,38.97 L241.77,39.03 L243.13,39.09 L244.49,39.15 L245.86,39.21 L247.22,39.27 L248.58,39.32 L249.94,39.38 L251.30,39.44 L252.66,39.49 L254.03,39.55 L255.39,39.60 L256.75,39.66 L258.11,39.71 L259.47,39.76 L260.83,39.82 L262.19,39.87 L263.56,39.92 L264.92,39.97 L266.28,40.02 L267.64,40.07 L269.00,40.12 L270.36,40.17 L271.72,40.22 L273.09,40.27 L274.45,40.32 L275.81,40.37 L277.17,40.42 L278.53,40.47 L279.89,40.51 L281.26,40.56 L282.62,40.61 L283.98,40.65 L285.34,40.70 L286.70,40.74 L288.06,40.79 L289.42,40.83 L290.79,40.88 L292.15,40.92 L293.51,40.97 L294.87,41.01 L296.23,41.05 L297.59,41.10 L298.95,41.14 L300.32,41.18 L301.68,41.22 L303.04,41.27 L304.40,41.31 L305.76,41.35 L307.12,41.39 L308.49,41.43 L309.85,41.47 L311.21,41.51 L312.57,41.55 L313.93,41.59 L315.29,41.63 L316.65,41.67 L318.02,41.71 L319.38,41.75 L320.74,41.78 L322.10,41.82 L323.46,41.86 L324.82,41.90 L326.18,41.93 L327.55,41.97 L328.91,42.01 L330.27,42.05 L331.63,42.08 L332.99,42.12 L334.35,42.15 L335.72,42.19 L337.08,42.22 L338.44,42.26 L339.80,42.30" stroke="#996633" stroke-width="2.1"/>
<path d="M68.86,162.30 L70.22,163.80 L71.58,165.15 L72.94,166.35 L74.31,167.44 L75.67,168.44 L77.03,169.35 L78.39,170.19 L79.75,170.98 L81.11,171.70 L82.48,172.38 L83.84,173.02 L85.20,173.61 L86.56,174.18 L87.92,174.71 L89.28,175.21 L90.64,175.69 L92.01,176.15 L93.37,176.58 L94.73,176.99 L96.09,177.39 L97.45,177.77 L98.81,178.13 L100.17,178.48 L101.54,178.81 L102.90,179.13 L104.26,179.44 L105.62,179.74 L106.98,180.03 L108.34,180.31 L109.71,180.58 L111.07,180.84 L112.43,181.09 L113.79,181.34 L115.15,181.57 L116.51,181.80 L117.87,182.03 L119.24,182.25 L120.60,182.46 L121.96,182.66 L123.32,182.86 L124.68,183.06 L126.04,183.25 L127.40,183.43 L128.77,183.61 L130.13,183.79 L131.49,183.96 L132.85,184.13 L134.21,184.29 L135.57,184.45 L136.94,184.61 L138.30,184.77 L139.66,184.92 L141.02,185.06 L142.38,185.21 L143.74,185.35 L145.10,185.49 L146.47,185.62 L147.83,185.75 L149.19,185.89 L150.55,186.01 L151.91,186.14 L153.27,186.26 L154.63,186.38 L156.00,186.50 L157.36,186.62 L158.72,186.73 L160.08,186.85 L161.44,186.96 L162.80,187.06 L164.17,187.17 L165.53,187.28 L166.89,187.38 L168.25,187.48 L169.61,187.58 L170.97,187.68 L172.33,187.78 L173.70,187.87 L175.06,187.97 L176.42,188.06 L177.78,188.15 L179.14,188.24 L180.50,188.33 L181.87,188.42 L183.23,188.51 L184.59,188.59 L185.95,188.68 L187.31,188.76 L188.67,188.84 L190.03,188.92 L191.40,189.00 L192.76,189.08 L194.12,189.16 L195.48,189.23 L196.84,189.31 L198.20,189.38 L199.56,189.46 L200.93,189.53 L202.29,189.60 L203.65,189.67 L205.01,189.74 L206.37,189.81 L207.73,189.88 L209.10,189.95 L210.46,190.01 L211.82,190.08 L213.18,190.15 L214.54,190.21 L215.90,190.27 L217.26,190.34 L218.63,190.40 L219.99,190.46 L221.35,190.52 L222.71,190.58 L224.07,190.64 L225.43,190.70 L226.79,190.76 L228.16,190.82 L229.52,190.87 L230.88,190.93 L232.24,190.99 L233.60,191.04 L234.96,191.10 L236.33,191.15 L237.69,191.21 L239.05,191.26 L240.41,191.31 L241.77,191.36 L243.13,191.42 L244.49,191.47 L245.86,191.52 L247.22,191.57 L248.58,191.62 L249.94,191.67 L251.30,191.72 L252.66,191.77 L254.03,191.81 L255.39,191.86 L256.75,191.91 L258.11,191.96 L259.47,192.00 L260.83,192.05 L262.19,192.09 L263.56,192.14 L264.92,192.18 L266.28,192.23 L267.64,192.27 L269.00,192.31 L270.36,192.36 L271.72,192.40 L273.09,192.44 L274.45,192.49 L275.81,192.53 L277.17,192.57 L278.53,192.61 L279.89,192.65 L281.26,192.69 L282.62,192.73 L283.98,192.77 L285.34,192.81 L286.70,192.85 L288.06,192.89 L289.42,192.93 L290.79,192.97 L292.15,193.00 L293.51,193.04 L294.87,193.08 L296.23,193.12 L297.59,193.15 L298.95,193.19 L300.32,193.23 L301.68,193.26 L303.04,193.30 L304.40,193.33 L305.76,193.37 L307.12,193.40 L308.49,193.44 L309.85,193.47 L311.21,193.51 L312.57,193.54 L313.93,193.58 L315.29,193.61 L316.65,193.64 L318.02,193.68 L319.38,193.71 L320.74,193.74 L322.10,193.77 L323.46,193.81 L324.82,193.84 L326.18,193.87 L327.55,193.90 L328.91,193.93 L330.27,193.97 L331.63,194.00 L332.99,194.03 L334.35,194.06 L335.72,194.09 L337.08,194.12 L338.44,194.15 L339.80,194.18" stroke="#ff8000" stroke-width="2.1"/>
</g>
<rect x="63.5" y="0.5" width="281.7" height="281.3" fill="none" stroke="#000" stroke-width="1.15"/>
<path d="M125.90,281.8v-4.6M125.90,0.5v4.4M197.20,281.8v-4.6M197.20,0.5v4.4M268.50,281.8v-4.6M268.50,0.5v4.4M339.80,281.8v-4.6M339.80,0.5v4.4" stroke="#000" stroke-width="1.1" fill="none"/>
<path d="M68.86,281.8v-2.6M68.86,0.5v2.4M83.12,281.8v-2.6M83.12,0.5v2.4M97.38,281.8v-2.6M97.38,0.5v2.4M111.64,281.8v-2.6M111.64,0.5v2.4M140.16,281.8v-2.6M140.16,0.5v2.4M154.42,281.8v-2.6M154.42,0.5v2.4M168.68,281.8v-2.6M168.68,0.5v2.4M182.94,281.8v-2.6M182.94,0.5v2.4M211.46,281.8v-2.6M211.46,0.5v2.4M225.72,281.8v-2.6M225.72,0.5v2.4M239.98,281.8v-2.6M239.98,0.5v2.4M254.24,281.8v-2.6M254.24,0.5v2.4M282.76,281.8v-2.6M282.76,0.5v2.4M297.02,281.8v-2.6M297.02,0.5v2.4M311.28,281.8v-2.6M311.28,0.5v2.4M325.54,281.8v-2.6M325.54,0.5v2.4" stroke="#000" stroke-width="0.8" fill="none"/>
<path d="M63.5,248.40h3.4M345.2,248.40h-3.4M63.5,201.80h3.4M345.2,201.80h-3.4M63.5,155.40h3.4M345.2,155.40h-3.4M63.5,108.30h3.4M345.2,108.30h-3.4M63.5,61.30h3.4M345.2,61.30h-3.4M63.5,14.40h3.4M345.2,14.40h-3.4" stroke="#000" stroke-width="0.4" fill="none"/>
<path d="M63.5,280.97h1.8M345.2,280.97h-1.8M63.5,272.77h1.8M345.2,272.77h-1.8M63.5,266.94h1.8M345.2,266.94h-1.8M63.5,262.43h1.8M345.2,262.43h-1.8M63.5,258.74h1.8M345.2,258.74h-1.8M63.5,255.62h1.8M345.2,255.62h-1.8M63.5,252.92h1.8M345.2,252.92h-1.8M63.5,250.53h1.8M345.2,250.53h-1.8M63.5,234.37h1.8M345.2,234.37h-1.8M63.5,226.17h1.8M345.2,226.17h-1.8M63.5,220.34h1.8M345.2,220.34h-1.8M63.5,215.83h1.8M345.2,215.83h-1.8M63.5,212.14h1.8M345.2,212.14h-1.8M63.5,209.02h1.8M345.2,209.02h-1.8M63.5,206.32h1.8M345.2,206.32h-1.8M63.5,203.93h1.8M345.2,203.93h-1.8M63.5,187.83h1.8M345.2,187.83h-1.8M63.5,179.66h1.8M345.2,179.66h-1.8M63.5,173.86h1.8M345.2,173.86h-1.8M63.5,169.37h1.8M345.2,169.37h-1.8M63.5,165.69h1.8M345.2,165.69h-1.8M63.5,162.59h1.8M345.2,162.59h-1.8M63.5,159.90h1.8M345.2,159.90h-1.8M63.5,157.52h1.8M345.2,157.52h-1.8M63.5,141.22h1.8M345.2,141.22h-1.8M63.5,132.93h1.8M345.2,132.93h-1.8M63.5,127.04h1.8M345.2,127.04h-1.8M63.5,122.48h1.8M345.2,122.48h-1.8M63.5,118.75h1.8M345.2,118.75h-1.8M63.5,115.60h1.8M345.2,115.60h-1.8M63.5,112.86h1.8M345.2,112.86h-1.8M63.5,110.46h1.8M345.2,110.46h-1.8M63.5,94.15h1.8M345.2,94.15h-1.8M63.5,85.88h1.8M345.2,85.88h-1.8M63.5,80.00h1.8M345.2,80.00h-1.8M63.5,75.45h1.8M345.2,75.45h-1.8M63.5,71.73h1.8M345.2,71.73h-1.8M63.5,68.58h1.8M345.2,68.58h-1.8M63.5,65.85h1.8M345.2,65.85h-1.8M63.5,63.45h1.8M345.2,63.45h-1.8M63.5,47.18h1.8M345.2,47.18h-1.8M63.5,38.92h1.8M345.2,38.92h-1.8M63.5,33.06h1.8M345.2,33.06h-1.8M63.5,28.52h1.8M345.2,28.52h-1.8M63.5,24.80h1.8M345.2,24.80h-1.8M63.5,21.66h1.8M345.2,21.66h-1.8M63.5,18.95h1.8M345.2,18.95h-1.8M63.5,16.55h1.8M345.2,16.55h-1.8" stroke="#000" stroke-width="0.3" fill="none"/>
<g font-family="Liberation Sans, sans-serif" font-size="16.2" fill="#000" style="font-kerning:none" text-rendering="geometricPrecision">
<text transform="translate(125.90 298.50) scale(0.955 1)" text-anchor="middle">5</text>
<text transform="translate(197.20 298.50) scale(0.955 1)" text-anchor="middle">10</text>
<text transform="translate(268.50 298.50) scale(0.955 1)" text-anchor="middle">15</text>
<text transform="translate(339.80 298.50) scale(0.955 1)" text-anchor="middle">20</text>
<text transform="translate(60.30 254.00) scale(0.955 1)" text-anchor="end">10<tspan font-size="11.5" dy="-6.3" dx="-0.5">−10</tspan></text>
<text transform="translate(60.30 207.40) scale(0.955 1)" text-anchor="end">10<tspan font-size="11.5" dy="-6.3" dx="-0.5">−9</tspan></text>
<text transform="translate(60.30 161.00) scale(0.955 1)" text-anchor="end">10<tspan font-size="11.5" dy="-6.3" dx="-0.5">−8</tspan></text>
<text transform="translate(60.30 113.90) scale(0.955 1)" text-anchor="end">10<tspan font-size="11.5" dy="-6.3" dx="-0.5">−7</tspan></text>
<text transform="translate(60.30 66.90) scale(0.955 1)" text-anchor="end">10<tspan font-size="11.5" dy="-6.3" dx="-0.5">−6</tspan></text>
<text transform="translate(60.30 20.00) scale(0.955 1)" text-anchor="end">10<tspan font-size="11.5" dy="-6.3" dx="-0.5">−5</tspan></text>
<g font-size="15.6">
<text transform="translate(176.10 321.60)" font-style="italic">μ</text>
<text transform="translate(184.30 323.80)" font-size="11.5">Λ</text>
<text transform="translate(196.50 321.60)">[TeV]</text>
<g transform="translate(14.2,191.6) rotate(-90)">
<text transform="translate(-1.27 0.00)">Br(</text>
<text transform="translate(20.60 0.00)" font-style="italic">K</text>
<text transform="translate(31.30 -5.70)" font-size="9.6">+</text>
<path d="M41.9,-4.4H52.6M48.6,-8.2L52.7,-4.4L48.6,-0.6" fill="none" stroke="#000" stroke-width="1.1" stroke-linejoin="miter"/>
<text transform="translate(61.40 0.00)" font-style="italic">π</text>
<text transform="translate(72.30 -5.70)" font-size="9.6">+</text>
<text transform="translate(81.20 0.00)">νν)</text>
</g></g>
<line x1="247" y1="22.8" x2="266.2" y2="22.8" stroke="#0000ff" stroke-width="2"/>
<text transform="translate(274.85 27.80) scale(0.95 1)" font-size="16.2"><tspan font-style="italic">S</tspan><tspan font-size="11.4" dy="2.4" dx="-0.6">1</tspan></text>
<line x1="247" y1="48.5" x2="266.2" y2="48.5" stroke="#ff0000" stroke-width="2"/>
<text transform="translate(274.85 53.50) scale(0.95 1)" font-size="16.2"><tspan font-style="italic">S</tspan><tspan font-size="11.4" dy="2.4" dx="-0.6">3</tspan></text>
<line x1="247" y1="80.2" x2="266.2" y2="80.2" stroke="#00ff00" stroke-width="2"/>
<text transform="translate(274.60 85.80) scale(0.95 1)" font-size="16.2"><tspan font-style="italic">R</tspan><tspan font-size="11.4" dy="2.4" dx="-0.3">2</tspan></text>
<path d="M280.4,70.7 C280.9,68.3 282.3,68.3 283.2,69.5 S285.4,70.8 285.9,68.4" fill="none" stroke="#000" stroke-width="1.05" stroke-linecap="round"/>
<line x1="247" y1="106.4" x2="266.2" y2="106.4" stroke="#996633" stroke-width="2"/>
<text transform="translate(274.70 111.80) scale(0.95 1)" font-size="16.2"><tspan font-style="italic">V</tspan><tspan font-size="11.4" dy="2.4" dx="0.3">2,<tspan font-style="italic">L</tspan></tspan></text>
<line x1="247" y1="133.4" x2="266.2" y2="133.4" stroke="#ff8000" stroke-width="2"/>
<text transform="translate(274.60 139.00) scale(0.95 1)" font-size="16.2"><tspan font-style="italic">U</tspan><tspan font-size="11.4" dy="2.4" dx="-0.6">3</tspan></text>
<line x1="247" y1="159.3" x2="266.2" y2="159.3" stroke="#800080" stroke-width="2"/>
<text transform="translate(274.60 164.90) scale(0.95 1)" font-size="16.2"><tspan font-style="italic">U</tspan><tspan font-size="11.4" dy="2.4" dx="-0.6">1,<tspan font-style="italic">L</tspan></tspan></text>
</g>
</svg>
</body></html>
